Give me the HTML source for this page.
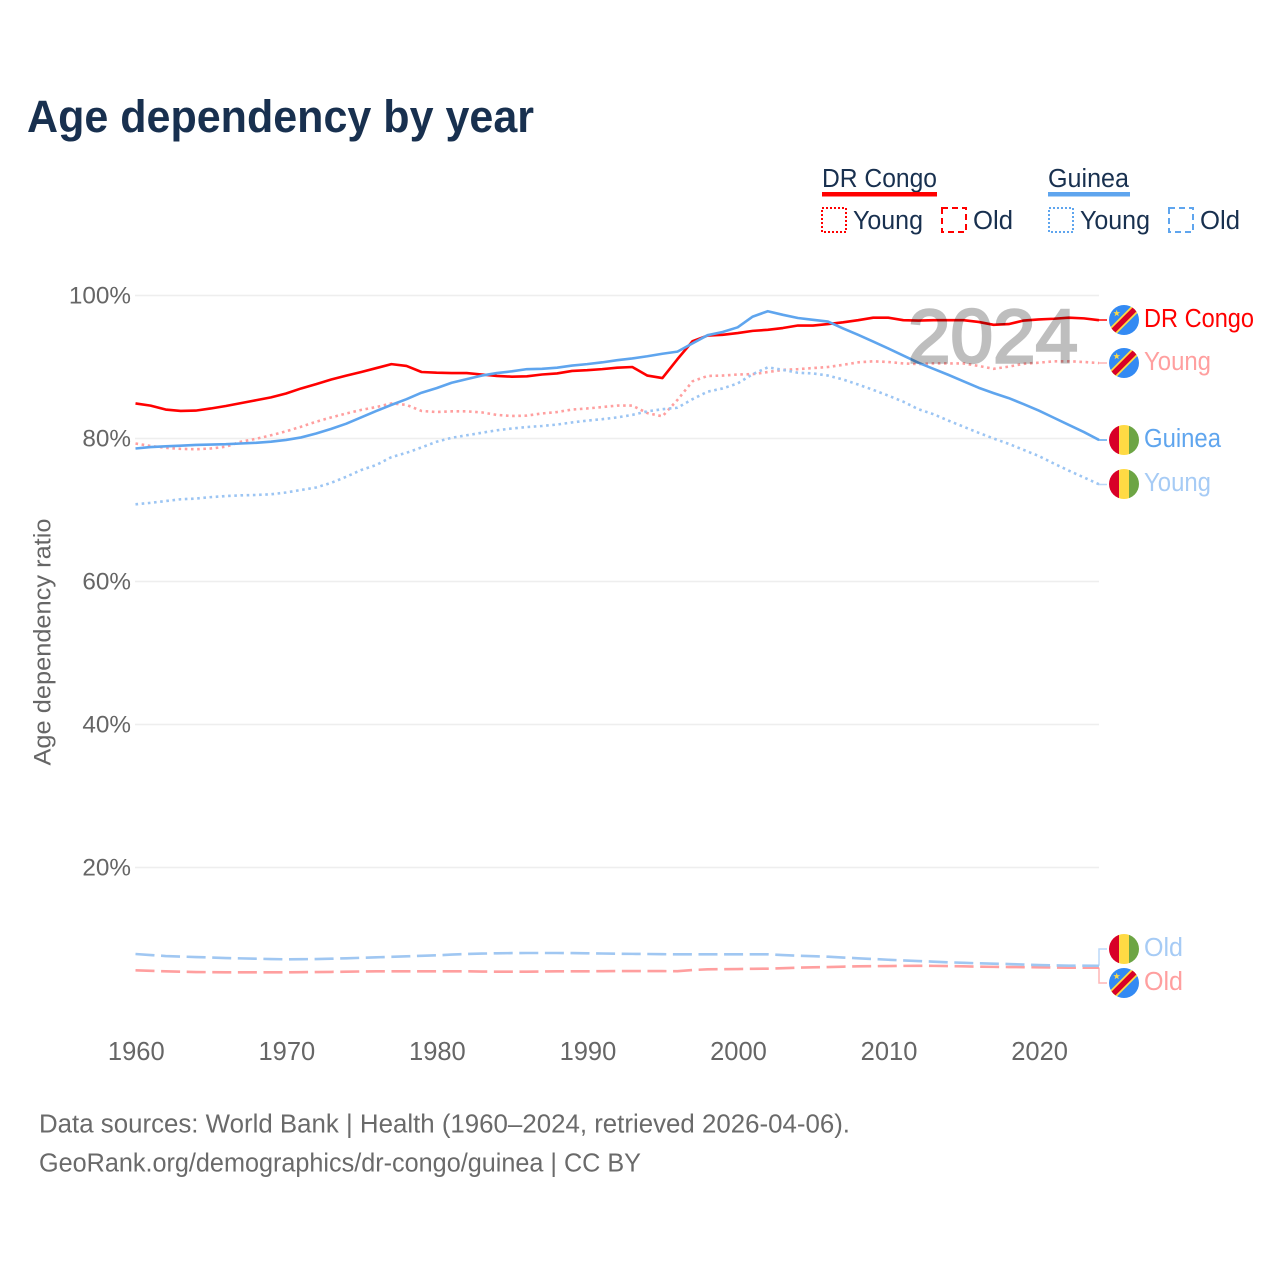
<!DOCTYPE html>
<html lang="en">
<head>
<meta charset="utf-8">
<title>Age dependency by year</title>
<style>
html,body{margin:0;padding:0;background:#fff;}
svg{display:block;font-family:"Liberation Sans",sans-serif;}
</style>
</head>
<body>
<svg id="chart" xmlns="http://www.w3.org/2000/svg" width="1280" height="1280" viewBox="0 0 1280 1280">
  <defs>
    <clipPath id="flag-clip"><circle cx="15" cy="15" r="15"></circle></clipPath>
    <g id="flag-drc" clip-path="url(#flag-clip)">
      <rect width="30" height="30" fill="#338af3"></rect>
      <path d="M-2 32 L32 -2" stroke="#ffda44" stroke-width="9" fill="none"></path>
      <path d="M-2 32 L32 -2" stroke="#d80027" stroke-width="5.5" fill="none"></path>
      <polygon points="7.7,4.7 8.52,7.17 11.12,7.19 9.03,8.73 9.82,11.21 7.7,9.7 5.58,11.21 6.37,8.73 4.28,7.19 6.88,7.17" fill="#ffda44"></polygon>
    </g>
    <g id="flag-guinea" clip-path="url(#flag-clip)">
      <rect width="10" height="30" fill="#d80027"></rect>
      <rect x="10" width="10" height="30" fill="#ffda44"></rect>
      <rect x="20" width="10" height="30" fill="#6da544"></rect>
    </g>
  </defs>

  <text x="27" y="132" font-size="45" font-weight="700" fill="#18304f" textLength="507" lengthAdjust="spacingAndGlyphs">Age dependency by year</text>

  <g>
    <text x="822" y="187" font-size="25.5" fill="#18304f" textLength="115" lengthAdjust="spacingAndGlyphs">DR Congo</text>
    <rect x="822" y="192" width="115" height="4.5" fill="#ff0000"></rect>
    <text x="1048" y="187" font-size="25.5" fill="#18304f" textLength="81" lengthAdjust="spacingAndGlyphs">Guinea</text>
    <rect x="1048" y="192" width="82" height="4.5" fill="#5fa5ee"></rect>
    <rect x="822" y="208" width="24" height="24" fill="none" stroke="#ff0000" stroke-width="2" stroke-dasharray="2 2"></rect>
    <text x="853" y="229" font-size="25.5" fill="#18304f" textLength="70" lengthAdjust="spacingAndGlyphs">Young</text>
    <rect x="942" y="208" width="24" height="24" fill="none" stroke="#ff0000" stroke-width="2" stroke-dasharray="6 4"></rect>
    <text x="973" y="229" font-size="25.5" fill="#18304f" textLength="40" lengthAdjust="spacingAndGlyphs">Old</text>
    <rect x="1049" y="208" width="24" height="24" fill="none" stroke="#5fa5ee" stroke-width="2" stroke-dasharray="2 2"></rect>
    <text x="1080" y="229" font-size="25.5" fill="#18304f" textLength="70" lengthAdjust="spacingAndGlyphs">Young</text>
    <rect x="1169" y="208" width="24" height="24" fill="none" stroke="#5fa5ee" stroke-width="2" stroke-dasharray="6 4"></rect>
    <text x="1200" y="229" font-size="25.5" fill="#18304f" textLength="40" lengthAdjust="spacingAndGlyphs">Old</text>
  </g>

  <g id="grid"></g>
  <g id="y-axis"></g>
  <g id="x-axis"></g>
  <text transform="translate(50.5,642) rotate(-90)" text-anchor="middle" font-size="24.5" fill="#666666" textLength="247" lengthAdjust="spacingAndGlyphs">Age dependency ratio</text>

  <g id="series"></g>

  <text x="908" y="362.7" font-size="76" fill="#000000" stroke="#000000" stroke-width="2.6" opacity="0.25" textLength="170" lengthAdjust="spacingAndGlyphs">2024</text>

  <g>
    <use href="#flag-drc" x="1109" y="305"></use>
    <text x="1144" y="327" font-size="25.5" fill="#ff0000" textLength="110" lengthAdjust="spacingAndGlyphs">DR Congo</text>
    <use href="#flag-drc" x="1109" y="348"></use>
    <text x="1144" y="370" font-size="25.5" fill="#ff9f9f" textLength="67" lengthAdjust="spacingAndGlyphs">Young</text>
    <use href="#flag-guinea" x="1109" y="425"></use>
    <text x="1144" y="447" font-size="25.5" fill="#5fa5ee" textLength="77" lengthAdjust="spacingAndGlyphs">Guinea</text>
    <use href="#flag-guinea" x="1109" y="469"></use>
    <text x="1144" y="491" font-size="25.5" fill="#a6cbf5" textLength="67" lengthAdjust="spacingAndGlyphs">Young</text>
    <use href="#flag-guinea" x="1109" y="934"></use>
    <text x="1144" y="956" font-size="25.5" fill="#a6cbf5" textLength="39" lengthAdjust="spacingAndGlyphs">Old</text>
    <use href="#flag-drc" x="1109" y="968"></use>
    <text x="1144" y="990" font-size="25.5" fill="#ff9f9f" textLength="39" lengthAdjust="spacingAndGlyphs">Old</text>
  </g>

  <text x="39" y="1132.5" font-size="25.5" fill="#6a6a6a" textLength="811" lengthAdjust="spacingAndGlyphs">Data sources: World Bank | Health (1960–2024, retrieved 2026-04-06).</text>
  <text x="39" y="1171.5" font-size="25.5" fill="#6a6a6a" textLength="602" lengthAdjust="spacingAndGlyphs">GeoRank.org/demographics/dr-congo/guinea | CC BY</text>
</svg>

<script>
const startYear = 1960;
const endYear = 2024;
const yTickValues = [20, 40, 60, 80, 100];
const xTickValues = [1960, 1970, 1980, 1990, 2000, 2010, 2020];

const drCongoTotal = [84.9,84.6,84.05,83.85,83.9,84.2,84.55,84.95,85.35,85.75,
  86.3,87.0,87.6,88.25,88.8,89.3,89.85,90.4,90.15,89.3,
  89.2,89.15,89.15,88.95,88.75,88.65,88.7,88.95,89.1,89.45,
  89.55,89.7,89.9,90.0,88.8,88.45,91.1,93.6,94.4,94.5,
  94.75,95.05,95.2,95.45,95.8,95.8,96.0,96.25,96.55,96.9,
  96.9,96.55,96.5,96.55,96.55,96.55,96.3,95.9,96.0,96.5,
  96.65,96.75,96.9,96.8,96.55];
const drCongoYoung = [79.3,78.95,78.7,78.55,78.5,78.6,78.85,79.55,79.95,80.45,
  81.0,81.65,82.35,82.95,83.5,84.0,84.4,84.9,84.7,83.85,
  83.7,83.8,83.8,83.65,83.3,83.15,83.2,83.5,83.7,84.05,
  84.2,84.4,84.6,84.6,83.55,83.1,85.4,88.0,88.75,88.8,
  88.95,89.0,89.3,89.6,89.7,89.85,90.0,90.3,90.65,90.8,
  90.7,90.5,90.4,90.5,90.5,90.5,90.15,89.75,90.05,90.45,
  90.6,90.8,90.8,90.7,90.55];
const drCongoOld = [5.62,5.55,5.48,5.43,5.38,5.36,5.34,5.34,5.34,5.34,
  5.34,5.36,5.38,5.4,5.43,5.46,5.48,5.48,5.48,5.48,
  5.48,5.48,5.48,5.45,5.43,5.43,5.43,5.45,5.48,5.48,
  5.48,5.5,5.52,5.52,5.52,5.51,5.5,5.66,5.76,5.78,
  5.8,5.83,5.85,5.92,5.99,6.04,6.08,6.13,6.18,6.2,
  6.22,6.24,6.25,6.24,6.22,6.18,6.13,6.1,6.08,6.06,
  6.04,6.01,5.99,5.99,5.99];
const guineaTotal = [78.6,78.8,78.9,79.0,79.1,79.15,79.2,79.3,79.4,79.55,
  79.8,80.15,80.7,81.35,82.07,82.97,83.85,84.7,85.5,86.4,
  87.05,87.8,88.3,88.8,89.15,89.4,89.7,89.75,89.9,90.2,
  90.4,90.65,90.95,91.2,91.5,91.85,92.15,93.3,94.45,94.9,
  95.55,97.05,97.8,97.3,96.85,96.6,96.35,95.4,94.5,93.55,
  92.6,91.6,90.6,89.75,88.9,88.0,87.1,86.35,85.65,84.8,
  83.9,82.9,81.9,80.9,79.8];
const guineaYoung = [70.8,71.0,71.25,71.5,71.6,71.8,71.95,72.05,72.1,72.2,
  72.45,72.8,73.15,73.8,74.65,75.6,76.3,77.4,78.0,78.75,
  79.55,80.1,80.45,80.8,81.15,81.4,81.6,81.75,81.95,82.25,
  82.5,82.7,82.95,83.3,83.8,84.1,84.3,85.5,86.55,87.0,
  87.7,89.0,89.95,89.6,89.2,89.1,88.8,88.25,87.55,86.8,
  86.0,85.15,84.1,83.4,82.5,81.65,80.8,80.0,79.25,78.4,
  77.55,76.5,75.5,74.55,73.6];
const guineaOld = [7.9,7.76,7.62,7.54,7.48,7.41,7.34,7.29,7.24,7.2,
  7.16,7.17,7.2,7.24,7.3,7.37,7.44,7.51,7.58,7.65,
  7.72,7.82,7.9,7.96,8.0,8.03,8.04,8.04,8.04,8.03,
  8.0,7.97,7.94,7.92,7.9,7.87,7.86,7.86,7.86,7.86,
  7.86,7.86,7.86,7.76,7.66,7.59,7.52,7.41,7.3,7.2,
  7.1,7.0,6.92,6.83,6.74,6.67,6.6,6.55,6.5,6.43,
  6.36,6.31,6.27,6.27,6.26];

const SVG_NS = 'http://www.w3.org/2000/svg';
function xScale(year) { return 135.5 + (year - startYear) * (1099 - 135.5) / (endYear - startYear); }
function yScale(value) { return 1010.5 - value * 7.15; }

const gridGroup = document.getElementById('grid');
const yAxisGroup = document.getElementById('y-axis');
const xAxisGroup = document.getElementById('x-axis');
const seriesGroup = document.getElementById('series');

yTickValues.forEach(function (tick) {
  const line = document.createElementNS(SVG_NS, 'line');
  
  
  line.setAttribute('x1', 135);
  line.setAttribute('x2', 1099);
  line.setAttribute('y1', yScale(tick));
  line.setAttribute('y2', yScale(tick));
  line.setAttribute('stroke', '#eeeeee');
  line.setAttribute('stroke-width', 1.6);
  gridGroup.appendChild(line);

  const label = document.createElementNS(SVG_NS, 'text');
  
  
  label.setAttribute('x', 131);
  label.setAttribute('y', yScale(tick) + 8);
  label.setAttribute('text-anchor', 'end');
  label.setAttribute('font-size', 24.3);
  label.setAttribute('fill', '#666666');
  label.textContent = tick + '%';
  yAxisGroup.appendChild(label);
});

xTickValues.forEach(function (tick) {
  const label = document.createElementNS(SVG_NS, 'text');
  
  
  label.setAttribute('x', xScale(tick) + 0.8);
  label.setAttribute('y', 1060);
  label.setAttribute('text-anchor', 'middle');
  label.setAttribute('font-size', 25.5);
  label.setAttribute('fill', '#666666');
  label.textContent = String(tick);
  xAxisGroup.appendChild(label);
});

function linePath(values) {
  return values.map(function (v, i) {
    return (i === 0 ? 'M' : 'L') + xScale(startYear + i).toFixed(2) + ' ' + yScale(v).toFixed(2);
  }).join(' ');
}

function drawSeries(values, name, color, dash, labelY, connectorColor) {
  const lastY = yScale(values[values.length - 1]);
  const lastX = xScale(endYear);

  const connector = document.createElementNS(SVG_NS, 'path');
  
  
  connector.setAttribute('d', 'M' + lastX + ' ' + lastY + ' V' + labelY + ' H1107');
  connector.setAttribute('fill', 'none');
  connector.setAttribute('stroke', connectorColor);
  connector.setAttribute('stroke-width', 1.5);
  seriesGroup.appendChild(connector);

  const path = document.createElementNS(SVG_NS, 'path');
  
  
  path.setAttribute('d', linePath(values));
  path.setAttribute('fill', 'none');
  path.setAttribute('stroke', color);
  path.setAttribute('stroke-width', 2.6);
  path.setAttribute('stroke-linejoin', 'round');
  if (dash) { path.setAttribute('stroke-dasharray', dash); }
  seriesGroup.appendChild(path);
}

drawSeries(drCongoOld, 'dr-congo-old', '#ff9f9f', '19 6.6', 983, '#ffb5b5');
drawSeries(guineaOld, 'guinea-old', '#a0c7f2', '19 6.6', 949, '#bcd8f8');
drawSeries(drCongoYoung, 'dr-congo-young', '#ff9f9f', '2.6 3.6', 363, '#ffb5b5');
drawSeries(guineaYoung, 'guinea-young', '#9cc5f3', '2.6 3.6', 484.5, '#bcd8f8');
drawSeries(drCongoTotal, 'dr-congo-total', '#ff0000', null, 320, '#ff0000');
drawSeries(guineaTotal, 'guinea-total', '#5fa5ee', null, 440, '#5fa5ee');
</script>
</body>
</html>
